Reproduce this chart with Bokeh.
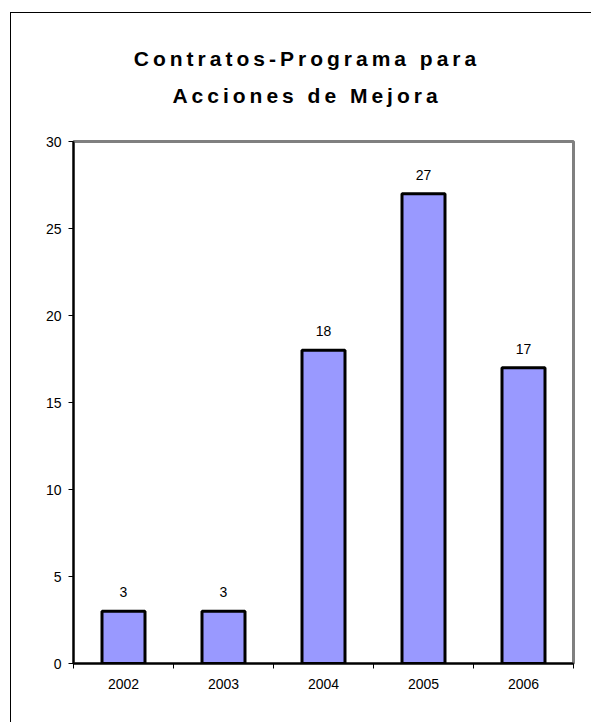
from bokeh.plotting import figure
from bokeh.models import Range1d, FixedTicker, Div
from bokeh.layouts import column
from bokeh.core.properties import value
from bokeh.embed import file_html
from bokeh.resources import INLINE

years = ["2002", "2003", "2004", "2005", "2006"]
values = [3, 3, 18, 27, 17]
y_ticks = [0, 5, 10, 15, 20, 25, 30]
title_lines = ["Contratos-Programa para", "Acciones de Mejora"]

FONT = "Liberation Sans"
xc = [i + 0.5 for i in range(len(years))]

title_html = (
    "<div style=\"display:block;box-sizing:content-box;width:568px;"
    "font-family:'Liberation Sans',Arial,sans-serif;"
    "font-weight:bold;font-size:21px;letter-spacing:4px;line-height:37px;"
    "text-align:center;padding-top:27px;padding-left:12px;color:#000;"
    "margin:0;\">" + "<br>".join(title_lines) + "</div>"
)
title_div = Div(text=title_html, width=580, height=118, margin=0)

p = figure(width=580, height=591, output_backend="svg", toolbar_location=None,
           title_location=None,
           x_range=Range1d(0, len(years)), y_range=Range1d(0, y_ticks[-1]),
           min_border_left=62, min_border_right=18, min_border_top=10,
           min_border_bottom=59, margin=0)

p.xgrid.visible = False
p.ygrid.visible = False
p.outline_line_color = "#808080"
p.outline_line_width = 3
p.background_fill_color = "white"
p.border_fill_color = "white"

# y axis
p.yaxis.ticker = FixedTicker(ticks=y_ticks)
p.yaxis.axis_line_color = "black"
p.yaxis.axis_line_width = 2
p.yaxis.major_tick_out = 5
p.yaxis.major_tick_in = 0
p.yaxis.major_tick_line_color = "black"
p.yaxis.minor_tick_line_color = None
p.yaxis.major_label_text_font = FONT
p.yaxis.major_label_text_font_size = "14px"
p.yaxis.major_label_text_color = "black"
p.yaxis.major_label_standoff = 7

# x axis: labels at category centres, ticks at boundaries
p.xaxis.ticker = FixedTicker(ticks=xc, minor_ticks=list(range(len(years) + 1)))
p.xaxis.major_label_overrides = {x: y for x, y in zip(xc, years)}
p.xaxis.axis_line_color = "black"
p.xaxis.axis_line_width = 2
p.xaxis.major_tick_line_color = None
p.xaxis.major_tick_out = 0
p.xaxis.major_tick_in = 0
p.xaxis.minor_tick_line_color = "black"
p.xaxis.minor_tick_out = 5
p.xaxis.minor_tick_in = 0
p.xaxis.major_label_text_font = FONT
p.xaxis.major_label_text_font_size = "14px"
p.xaxis.major_label_text_color = "black"
p.xaxis.major_label_standoff = 10

p.vbar(x=xc, top=values, bottom=0, width=0.43,
       fill_color="#9999FF", line_color="black", line_width=3)

p.text(x=xc, y=values, text=[str(v) for v in values],
       text_align="center", text_baseline="bottom", y_offset=-14,
       text_font=value(FONT), text_font_size="14px", text_color="black")

layout = column(title_div, p, spacing=0,
                styles={"margin-left": "10px", "margin-top": "12px",
                        "border-left": "1px solid black",
                        "border-top": "1px solid black",
                        "background-color": "white"})

open("out.html", "w").write(file_html(layout, INLINE))
